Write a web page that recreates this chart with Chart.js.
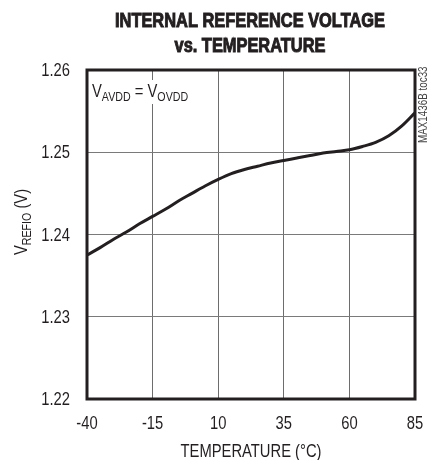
<!DOCTYPE html>
<html>
<head>
<meta charset="utf-8">
<script src="https://cdn.jsdelivr.net/npm/chart.js@4.4.1/dist/chart.umd.min.js"></script>
<style>
  html, body { margin: 0; padding: 0; background: #fff; }
  #wrap { width: 440px; height: 460px; position: relative; }
</style>
</head>
<body>
<div id="wrap"><canvas id="chart" width="440" height="460"></canvas></div>
<script>
// temperature (degC) and internal reference voltage (V)
const temps = [-40, -35, -30, -25, -20, -15, -10, -5, 0, 5, 10, 15, 20, 25, 30, 35, 40, 45, 50, 55, 60, 65, 70, 75, 80, 85];
const vrefio = [1.2375, 1.2384, 1.2394, 1.2403, 1.2413, 1.2422, 1.2431, 1.2441, 1.2450, 1.2459, 1.2467, 1.2474, 1.2479,
                1.2483, 1.2487, 1.2490, 1.2493, 1.2496, 1.2499, 1.2501, 1.2503, 1.2507, 1.2512, 1.2520, 1.2532, 1.2548];
const xTicks = [-40, -15, 10, 35, 60, 85];
const yTicks = [1.22, 1.23, 1.24, 1.25, 1.26];

const titleLines = ["INTERNAL REFERENCE VOLTAGE", "vs. TEMPERATURE"];
const SANS = "'Liberation Sans', Arial, sans-serif";
const SQUEEZE = 0.82; // fake a narrow face by squeezing Liberation Sans

// text squeezed horizontally; align: left / center / right
function narrowText(ctx, txt, x, y, font, align, heavy) {
    ctx.save();
    ctx.font = font;
    const w = ctx.measureText(txt).width * SQUEEZE;
    let x0 = x;
    if (align === 'center') x0 = x - w / 2;
    if (align === 'right') x0 = x - w;
    ctx.translate(x0, y);
    ctx.scale(SQUEEZE, 1);
    ctx.textAlign = 'left';
    ctx.fillText(txt, 0, 0);
    if (heavy) {
        // thicken the bold a little, the original uses a black weight
        ctx.strokeStyle = ctx.fillStyle;
        ctx.lineWidth = heavy;
        ctx.strokeText(txt, 0, 0);
    }
    ctx.restore();
    return w;
}

// text made of normal and subscript parts
function subText(ctx, parts, x, y, align) {
    const fontOf = p => p.sub ? "13px " + SANS : "18px " + SANS;
    let w = 0;
    parts.forEach(p => { ctx.font = fontOf(p); w += ctx.measureText(p.t).width * SQUEEZE; });
    if (align === 'center') x -= w / 2;
    parts.forEach(p => {
        x += narrowText(ctx, p.t, x, p.sub ? y + 4 : y, fontOf(p), 'left');
    });
    return w;
}

const extras = {
    id: 'extras',
    afterDraw(chart) {
        const ctx = chart.ctx;
        const a = chart.chartArea;
        const xs = chart.scales.x, ys = chart.scales.y;
        ctx.save();
        // frame
        ctx.strokeStyle = '#231f20';
        ctx.lineWidth = 3;
        ctx.strokeRect(a.left, a.top, a.right - a.left, a.bottom - a.top);

        ctx.fillStyle = '#231f20';
        ctx.textBaseline = 'alphabetic';

        // tick labels from the library's ticks
        xs.ticks.forEach(t => {
            narrowText(ctx, String(t.value), xs.getPixelForValue(t.value), 429, "18px " + SANS, 'center');
        });
        ys.ticks.forEach(t => {
            narrowText(ctx, t.value.toFixed(2), 70, ys.getPixelForValue(t.value) + 6, "18px " + SANS, 'right');
        });

        // title
        narrowText(ctx, titleLines[0], 250, 27, "bold 20px " + SANS, 'center', 1);
        narrowText(ctx, titleLines[1], 250, 52, "bold 20px " + SANS, 'center', 1);

        // annotation inside the plot
        const note = [{t: 'V'}, {t: 'AVDD', sub: true}, {t: ' = '}, {t: 'V'}, {t: 'OVDD', sub: true}];
        ctx.fillStyle = '#fff';
        ctx.fillRect(a.left + 3, 80, 104, 24);
        ctx.fillStyle = '#231f20';
        subText(ctx, note, a.left + 5, 97, 'left');

        // y axis title, rotated
        const yt = [{t: 'V'}, {t: 'REFIO', sub: true}, {t: ' (V)'}];
        ctx.save();
        ctx.translate(27, 222);
        ctx.rotate(-Math.PI / 2);
        subText(ctx, yt, 0, 0, 'center');
        ctx.restore();

        // x axis title
        narrowText(ctx, 'TEMPERATURE (\u00B0C)', (a.left + a.right) / 2, 457, "18px " + SANS, 'center');

        // side id
        ctx.save();
        ctx.translate(427, 143);
        ctx.rotate(-Math.PI / 2);
        ctx.fillStyle = '#444';
        narrowText(ctx, 'MAX1436B toc33', 0, 0, "12px " + SANS, 'left');
        ctx.restore();
        ctx.restore();
    }
};

new Chart(document.getElementById('chart'), {
    type: 'line',
    data: {
        datasets: [{
            data: temps.map((t, i) => ({x: t, y: vrefio[i]})),
            borderColor: '#231f20',
            borderWidth: 3,
            pointRadius: 0,
            tension: 0.4,
            cubicInterpolationMode: 'monotone',
            fill: false
        }]
    },
    options: {
        responsive: false,
        animation: false,
        layout: { padding: { left: 0, right: 25, top: 70, bottom: 0 } },
        plugins: { legend: { display: false }, tooltip: { enabled: false }, title: { display: false } },
        scales: {
            x: {
                type: 'linear',
                min: -40, max: 85,
                afterFit: s => { s.height = 61; },
                afterBuildTicks: s => { s.ticks = xTicks.map(v => ({value: v})); },
                grid: { color: '#6d6d6d', lineWidth: 1, drawTicks: false },
                border: { display: false },
                ticks: { display: false }
            },
            y: {
                min: 1.22, max: 1.26,
                afterFit: s => { s.width = 87; },
                afterBuildTicks: s => { s.ticks = yTicks.map(v => ({value: v})); },
                grid: { color: '#7a7a7a', lineWidth: 1, drawTicks: false },
                border: { display: false },
                ticks: { display: false }
            }
        }
    },
    plugins: [extras]
});
</script>
</body>
</html>
